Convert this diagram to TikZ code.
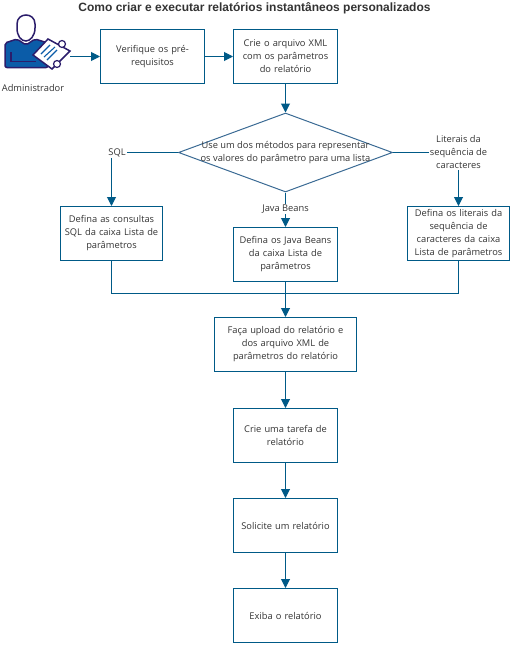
\documentclass[tikz,border=0pt]{standalone}
\usepackage{fontspec}
\setmainfont{Open Sans}
\newfontfamily\titlefont{Liberation Sans}
\usetikzlibrary{arrows.meta}
\usetikzlibrary{shapes.geometric}
\definecolor{flowblue}{HTML}{005A87}
\definecolor{diamondblue}{HTML}{3A6A94}
\definecolor{iconblue}{HTML}{0B5CA8}
\definecolor{iconline}{HTML}{2B1D6B}
\tikzset{>={Triangle[length=9pt,width=9pt]}}
\newcommand\linewd{1pt}
\tikzset{
  flow/.style={draw=flowblue, line width=\linewd},
  stepbox/.style={flow, fill=white, rectangle, minimum width=104pt, minimum height=54pt,
    inner sep=1pt, align=center, text width=98pt},
  sidebox/.style={stepbox, minimum width=102pt},
  tag/.style={inner sep=1pt, align=center}
}
\begin{document}
\begin{tikzpicture}[x=1pt, y=-1pt, every node/.style={font=\fontsize{9.3}{13}\selectfont, text=black!80}]
  \useasboundingbox (0, 0) rectangle (511, 645);
  \draw (254.5, 8) node (title) [inner sep=0pt, font=\titlefont\fontsize{12}{14}\selectfont\bfseries] {Como criar e executar relatórios instantâneos personalizados};
  % icon
  \draw[iconline, line width=1.5pt, fill=iconblue, rounded corners=2pt]
    (5, 43) -- (17, 39) -- (26, 45) -- (35, 39) -- (48, 43) -- (48, 67.5) -- (5, 67.5) -- cycle;
  \draw[iconline, line width=1.5pt, fill=white]
    (17, 24) .. controls (17, 12) and (35, 12) .. (35, 24) -- (35, 28)
    .. controls (35, 36) and (30, 41) .. (26, 41) .. controls (21, 41) and (17, 36) .. (17, 28) -- cycle;
  \draw[iconline, line width=1.2pt] (11, 52) -- (11, 61.5) -- (36, 61.5);
  \draw[iconline, line width=1.5pt, fill=white] (33, 55) -- (48, 39) -- (70, 51) -- (52, 69) -- cycle;
  \draw[iconline, line width=1.2pt, fill=white] (62, 44) circle (3.5pt);
  \draw[iconline, line width=1.2pt, fill=white] (57, 64) circle (3.5pt);
  \draw[iconblue, line width=1.1pt] (41, 54) -- (50, 45);
  \draw[iconblue, line width=1.1pt] (44, 57) -- (55, 47);
  \draw[iconblue, line width=1.1pt] (47, 60) -- (57, 50);
  \draw (33, 88.5) node (admin) [inner sep=0pt] {Administrador};
  \coordinate (adminout) at (70, 56.5);
  \draw (152.5, 56.5) node (prereq) [stepbox] {Verifique os pré-\\requisitos};
  \draw (285.5, 56.5) node (xml) [stepbox] {Crie o arquivo XML\\com os parâmetros\\do relatório};
  \draw (285.5, 152.5) node (metodo) [diamond, draw=diamondblue, line width=\linewd, aspect=2.7, minimum width=214pt, minimum height=79pt, inner sep=0pt,
    label={[align=center]center:{Use um dos métodos para representar\\os valores do parâmetro para uma lista}}] {};
  \draw (117, 152.5) node (sqltag) [tag] {SQL};
  \draw (458.5, 152.5) node (strtag) [tag] {Literais da\\sequência de\\caracteres};
  \draw (285.5, 209) node (javatag) [tag] {Java Beans};
  \draw (111.5, 233.5) node (sql) [sidebox] {Defina as consultas\\SQL da caixa Lista de\\parâmetros};
  \draw (285.5, 254.5) node (java) [stepbox] {Defina os Java Beans\\da caixa Lista de\\parâmetros};
  \draw (458.5, 233.5) node (str) [sidebox] {Defina os literais da\\sequência de\\caracteres da caixa\\Lista de parâmetros};
  \coordinate (merge) at (285.5, 293.5);
  \draw (285.5, 344.5) node (upload) [stepbox, minimum width=142pt, text width=136pt] {Faça upload do relatório e\\dos arquivo XML de\\parâmetros do relatório};
  \draw (285.5, 435.5) node (tarefa) [stepbox] {Crie uma tarefa de\\relatório};
  \draw (285.5, 525.5) node (solicite) [stepbox] {Solicite um relatório};
  \draw (285.5, 615.5) node (exiba) [stepbox] {Exiba o relatório};
  \draw (adminout) -- (prereq) [flow, ->];
  \draw (prereq) -- (xml) [flow, ->];
  \draw (xml) -- (metodo.north) [flow, ->];
  \draw (metodo.west) -- (sqltag) [flow];
  \draw (metodo.east) -- (strtag.west |- metodo.east) [flow];
  \draw (metodo.south) -- (javatag) [flow];
  \draw (sqltag.south -| sql) -- (sql) [flow, ->];
  \draw (javatag) -- (java) [flow, ->];
  \draw (strtag) -- (str) [flow, ->];
  \draw (sql.south) |- (merge) [flow];
  \draw (str.south) |- (merge) [flow];
  \draw (java) -- (upload) [flow, ->];
  \draw (upload) -- (tarefa) [flow, ->];
  \draw (tarefa) -- (solicite) [flow, ->];
  \draw (solicite) -- (exiba) [flow, ->];
\end{tikzpicture}
\end{document}
